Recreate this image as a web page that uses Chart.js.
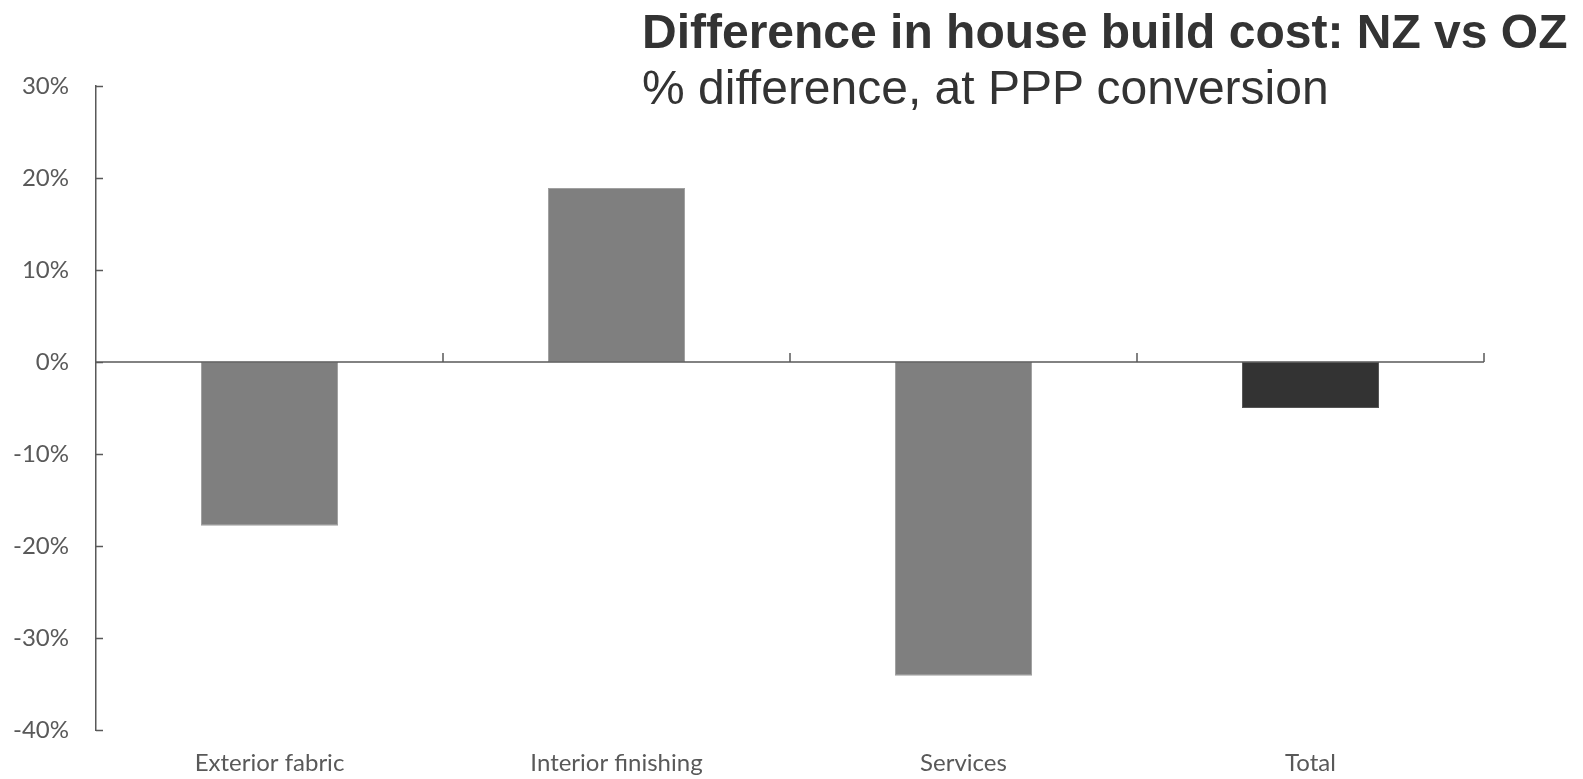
<!DOCTYPE html>
<html>
<head>
<meta charset="utf-8">
<script src="https://cdn.jsdelivr.net/npm/chart.js@4"></script>
<style>
  body { margin: 0; background: #fff; }
  #wrap { position: relative; width: 1583px; height: 779px; }
  .ttl { position: absolute; left: 642px; font-family: "Liberation Sans", Arial, sans-serif; font-size: 48px; line-height: 48px; color: #333; white-space: nowrap; }
  #t1 { top: 8px; font-weight: bold; }
  #t2 { top: 64px; }
</style>
</head>
<body>
<div id="wrap">
  <canvas id="chart" width="1583" height="779"></canvas>
  <div class="ttl" id="t1">Difference in house build cost: NZ vs OZ</div>
  <div class="ttl" id="t2">% difference, at PPP conversion</div>
</div>
<script>
const categories = ["Exterior fabric", "Interior finishing", "Services", "Total"];
const diffValues = [-17.8, 18.9, -34.1, -5.0];
const barColors = ["#7f7f7f", "#7f7f7f", "#7f7f7f", "#333333"];
const barBorders = ["#a0a0a0", "#a0a0a0", "#a0a0a0", "#555555"];

const axisColor = "#595959";
const labelFont = { family: "Lato, 'Open Sans', sans-serif", size: 24 };

// Excel style axis: zero line plus tick marks pointing inward
const axisMarks = {
  id: "axisMarks",
  afterDatasetsDraw(chart) {
    const ctx = chart.ctx;
    const x = chart.scales.x;
    const y = chart.scales.y;
    const area = chart.chartArea;
    const zero = y.getPixelForValue(0);
    ctx.save();
    ctx.strokeStyle = axisColor;
    ctx.lineWidth = 1.5;
    ctx.beginPath();
    ctx.moveTo(area.left, zero);
    ctx.lineTo(area.right, zero);
    // y ticks
    y.ticks.forEach(t => {
      const py = Math.round(y.getPixelForValue(t.value)) + 0.5;
      ctx.moveTo(area.left, py);
      ctx.lineTo(area.left + 7, py);
    });
    // category boundaries
    for (let i = 1; i <= categories.length; i++) {
      let px;
      if (i < categories.length) {
        px = (x.getPixelForValue(i - 1) + x.getPixelForValue(i)) / 2;
      } else {
        px = area.right;
      }
      ctx.moveTo(px, zero);
      ctx.lineTo(px, zero - 9);
    }
    ctx.stroke();
    ctx.restore();
  }
};

new Chart(document.getElementById("chart"), {
  type: "bar",
  data: {
    labels: categories,
    datasets: [{
      data: diffValues,
      backgroundColor: barColors,
      borderColor: barBorders,
      borderWidth: 1,
      borderSkipped: false,
      categoryPercentage: 1,
      barPercentage: 0.395
    }]
  },
  options: {
    responsive: false,
    animation: false,
    layout: { padding: { top: 86, right: 99, left: 0, bottom: 0 } },
    plugins: {
      legend: { display: false },
      tooltip: { enabled: false }
    },
    scales: {
      x: {
        offset: true,
        grid: { display: false },
        border: { display: false },
        ticks: { color: axisColor, font: labelFont, padding: 11, maxRotation: 0 },
        afterFit(s) { s.height = 49; }
      },
      y: {
        min: -40,
        max: 30,
        grid: { display: false, drawTicks: false },
        border: { display: true, color: axisColor, width: 1.5 },
        ticks: {
          stepSize: 10,
          color: axisColor,
          font: labelFont,
          padding: 27,
          callback: v => v + "%"
        },
        afterFit(s) { s.width = 96; }
      }
    }
  },
  plugins: [axisMarks]
});
</script>
</body>
</html>
